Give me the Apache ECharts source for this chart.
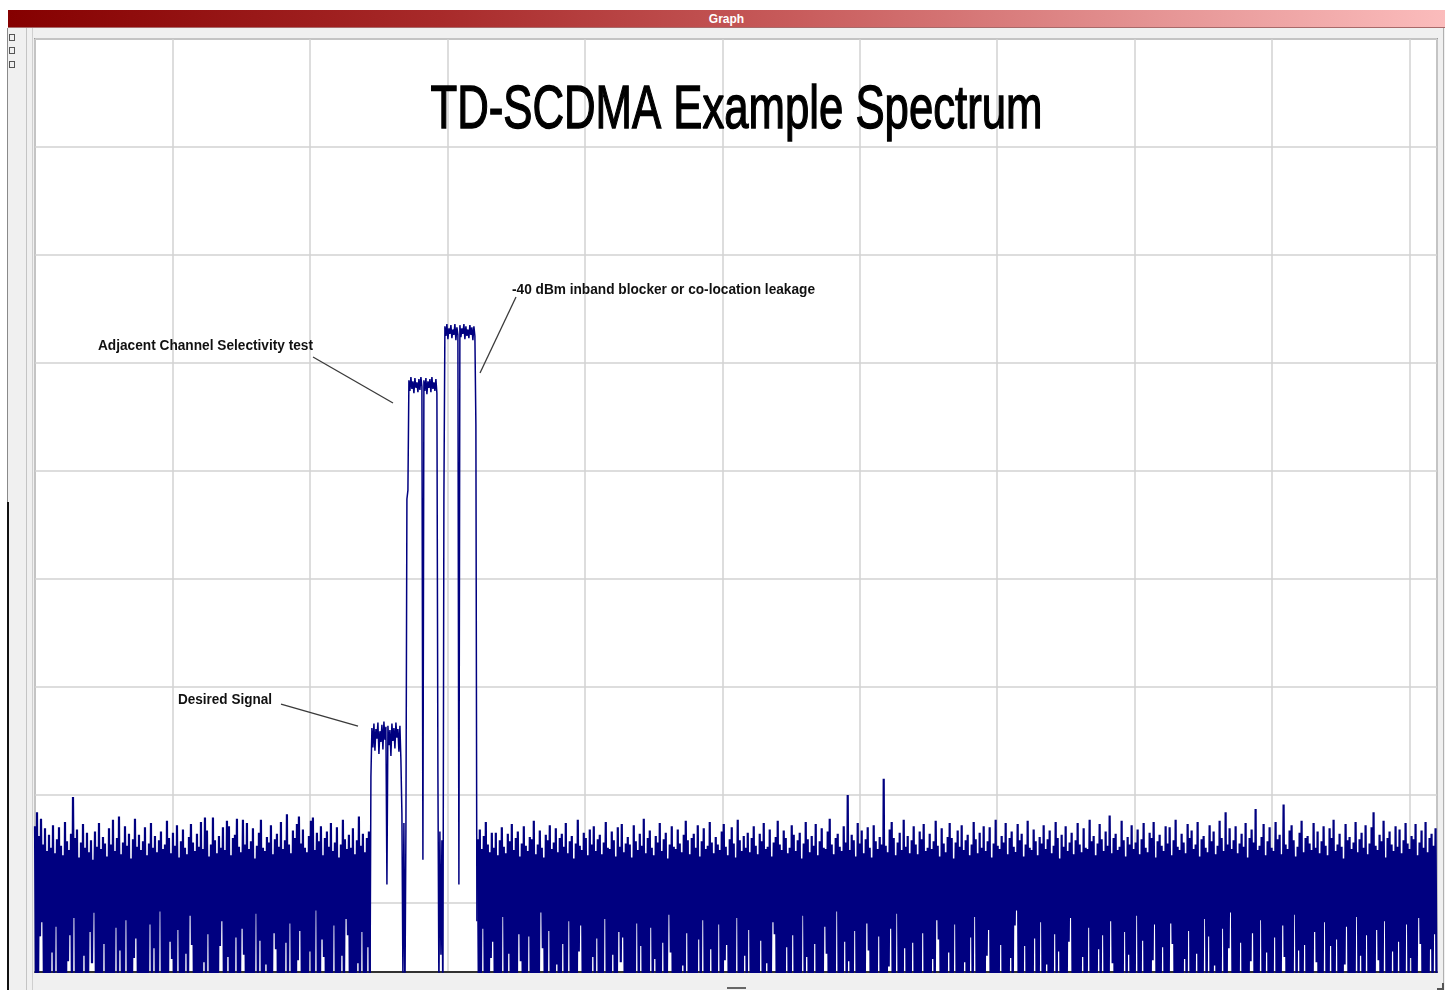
<!DOCTYPE html>
<html>
<head>
<meta charset="utf-8">
<script src="https://cdn.jsdelivr.net/npm/echarts@6/dist/echarts.min.js"></script>
<style>
html,body{margin:0;padding:0;width:1450px;height:990px;overflow:hidden;background:#fff;}
.abs{position:absolute;}
#frame{left:8px;top:28px;width:1437px;height:962px;background:#f0f0f0;}
#titlebar{left:8px;top:10px;width:1437px;height:18px;background:linear-gradient(to right,#850000 0%,#a82a2a 30%,#c85c5c 55%,#e59494 80%,#fbbcbc 100%);color:#fff;font:bold 12px "Liberation Sans Narrow","Liberation Sans",Arial,sans-serif;text-align:center;line-height:18px;box-shadow:inset 0 -1px 0 #a86a6a;}
#chart{left:0;top:0;width:1450px;height:990px;}
</style>
</head>
<body>
<div id="frame" class="abs"></div>
<div id="titlebar" class="abs">Graph</div>
<div class="abs" style="left:7px;top:28px;width:1px;height:474px;background:#8a8a8a;"></div>
<div class="abs" style="left:7px;top:502px;width:2px;height:488px;background:#111;"></div>
<div class="abs" style="left:26px;top:28px;width:1px;height:962px;background:#c4c4c4;"></div>
<div class="abs" style="left:32px;top:28px;width:1px;height:962px;background:#cfcfcf;"></div>
<div class="abs" style="left:1443px;top:28px;width:1px;height:962px;background:#b0b0b0;"></div>
<div class="abs" style="left:9px;top:34px;width:4px;height:5px;border:1px solid #555;"></div>
<div class="abs" style="left:9px;top:47px;width:4px;height:5px;border:1px solid #555;"></div>
<div class="abs" style="left:9px;top:61px;width:4px;height:5px;border:1px solid #555;"></div>
<div class="abs" style="left:727px;top:987px;width:19px;height:2px;background:#666;"></div>
<div class="abs" style="left:1437px;top:983px;width:5px;height:5px;border-right:2px solid #555;border-bottom:2px solid #555;"></div>
<div id="chart" class="abs"></div>
<script>
// ---------------- data ----------------
const chartTitle = 'TD-SCDMA Example Spectrum';
const freqMinMHz = 2004, freqMaxMHz = 2065.2, freqGridMHz = 6;
const levelTopDbm = -10, levelBottomDbm = -96.4, levelGridDb = 10;
const binMHz = 0.04364;

// noise floor left of the signals: sweep peaks / troughs (dBm; troughs of -99 are below the screen)
const leftNoiseStartMHz = 2004.0;
const leftNoisePeaks = [
-82.9,-81.6,-83.8,-82.2,-84.6,-83.1,-85.2,-83.7,-84.9,-82.8,-85.4,-84.1,-83.0,-84.7,-85.6,-82.5,-84.3,-85.1,-83.6,-80.2,-84.0,
-83.2,-85.8,-84.4,-82.7,-84.9,-83.5,-85.3,-84.2,-86.0,-83.4,-84.8,-82.6,-85.0,-83.9,-84.5,-85.7,-83.1,-84.6,-82.3,-85.2,-84.0,
-82.0,-85.5,-84.4,-82.9,-84.7,-83.6,-85.9,-84.1,-82.2,-84.8,-83.7,-85.1,-84.3,-83.0,-85.6,-84.5,-82.6,-84.9,-83.8,-85.3,-84.2,
-83.4,-85.0,-84.6,-82.4,-84.0,-85.4,-83.5,-84.7,-82.8,-85.8,-84.3,-83.2,-84.9,-85.5,-83.9,-82.7,-84.4,-85.2,-83.6,-84.8,-82.5,
-85.0,-82.1,-83.3,-85.7,-84.6,-82.1,-84.2,-85.4,-83.8,-84.9,-83.0,-85.1,-82.4,-82.9,-85.6,-84.0,-83.7,-82.2,-84.8,-85.3,-82.3,
-84.6,-82.6,-85.0,-84.3,-83.1,-85.9,-84.7,-83.5,-82.3,-84.9,-85.2,-83.9,-84.4,-82.8,-85.5,-84.1,-83.6,-84.8,-82.5,-85.0,-84.2,
-81.8,-84.6,-85.4,-83.3,-84.0,-82.7,-82.0,-84.5,-83.2,-84.9,-85.3,-83.8,-82.4,-82.1,-85.1,-83.5,-84.3,-82.9,-85.6,-84.0,-83.4,
-84.8,-82.6,-85.2,-84.4,-83.0,-85.8,-84.6,-82.3,-84.1,-85.0,-83.7,-84.9,-83.1,-85.5,-84.2,-82.0,-84.7,-83.6,-85.3,-84.0,-83.4
];
const leftNoiseTroughs = [
-99,-99,-93.1,-91.8,-99,-99,-99,-99,-94.6,-99,-92.2,-99,-99,-99,-99,-99,-95.4,-93.0,-99,-91.4,-99,
-99,-99,-99,-94.9,-99,-99,-92.7,-95.6,-90.9,-99,-99,-99,-99,-93.8,-99,-99,-99,-99,-99,-92.3,-99,
-94.4,-99,-99,-91.6,-99,-99,-99,-95.1,-93.3,-99,-99,-99,-99,-99,-99,-92.0,-99,-94.2,-99,-99,-90.8,
-99,-99,-99,-99,-93.6,-95.2,-99,-99,-92.5,-99,-99,-99,-94.7,-99,-91.2,-93.9,-99,-99,-99,-99,-99,
-95.5,-99,-92.9,-99,-99,-99,-99,-99,-94.0,-91.7,-99,-99,-95.0,-99,-99,-99,-93.2,-99,-99,-92.4,-94.8,
-99,-99,-99,-99,-99,-91.0,-99,-93.5,-99,-99,-95.7,-99,-99,-99,-92.8,-94.3,-99,-99,-99,-99,-93.7,
-99,-91.9,-99,-99,-99,-95.3,-92.6,-99,-99,-99,-99,-94.5,-99,-99,-90.7,-99,-99,-93.4,-95.0,-99,-99,
-99,-99,-92.1,-99,-99,-99,-94.9,-99,-91.5,-93.0,-99,-99,-99,-99,-95.6,-99,-92.7,-99,-99,-94.1,-99
];

// desired signal, adjacent channel and in-band blocker (one value per sweep bin, dBm)
const signalStartMHz = 2018.62;
const signalLevels = [
-100,-78.3,
-73.8,-75.6,-73.4,-75.9,-73.9,-74.8,-73.3,-76.2,-74.1,-75.1,-73.5,-75.8,-73.2,-74.9,-73.7,
-88.3,-73.6,-75.4,-74.0,-76.4,-73.4,-75.0,-73.8,-75.7,-73.3,-74.7,-73.9,-76.0,-73.6,-76.8,
-81.8,-97,-82.6,-99,-83.4,
-52.6,-51.8,
-41.6,-42.6,-41.3,-42.4,-41.7,-42.8,-41.4,-42.3,-41.8,-42.7,-41.5,-42.5,-41.3,-42.2,
-86.0,-41.6,-42.6,-41.4,-42.9,-41.7,-42.3,-41.5,-42.7,-41.3,-42.4,-41.8,-42.6,-41.5,-42.8,
-77.9,-98,-83.4,-94.8,-84.2,-100,
-52.4,
-36.6,-37.5,-36.4,-37.8,-36.8,-37.3,-36.5,-37.7,-36.9,-37.4,-36.4,-37.9,-36.7,-37.4,
-88.3,-36.5,-37.6,-36.8,-37.3,-36.4,-37.8,-36.6,-37.5,-36.9,-37.7,-36.5,-37.4,-36.7,-37.9,-36.6,-37.5,
-45.8,-91.7
];

// noise floor right of the signals: sweep peaks / troughs (dBm)
const rightNoiseStartMHz = 2023.33;
const rightNoisePeaks = [
-84.1,-83.2,-85.0,-83.8,-82.5,-84.6,-85.3,-83.5,-84.9,-83.5,-85.6,-84.2,-83.0,-84.8,-85.4,-83.6,-84.3,-82.7,-85.1,-84.0,
-83.4,-85.7,-84.5,-82.9,-84.7,-85.2,-83.9,-84.1,-82.4,-85.5,-84.6,-83.3,-84.9,-85.8,-83.7,-84.2,-82.8,-85.0,-84.4,-83.1,
-85.3,-84.0,-83.6,-84.8,-82.6,-85.4,-84.3,-83.8,-85.9,-84.5,-82.3,-84.7,-85.1,-83.5,-84.0,-85.6,-83.2,-84.6,-82.9,-85.2,
-84.1,-83.7,-85.5,-84.4,-82.5,-84.9,-85.0,-83.4,-84.2,-85.7,-83.0,-84.8,-82.7,-85.3,-84.5,-83.9,-84.6,-85.8,-82.8,-84.3,
-85.1,-83.6,-84.7,-82.2,-85.4,-84.0,-83.3,-84.9,-85.6,-83.8,-84.4,-82.6,-85.2,-84.1,-83.5,-85.9,-84.6,-82.9,-84.8,-85.0,
-83.2,-84.5,-85.3,-83.7,-82.4,-84.2,-85.5,-84.0,-83.6,-84.9,-82.8,-85.7,-84.3,-83.1,-85.0,-84.7,-82.5,-84.4,-85.4,-83.9,
-84.6,-85.1,-83.4,-82.7,-84.8,-85.6,-84.1,-83.0,-84.5,-85.8,-82.3,-84.2,-85.2,-83.8,-84.9,-83.5,-85.3,-84.0,-82.9,-84.7,
-85.5,-83.6,-84.3,-82.6,-85.0,-84.8,-83.2,-85.7,-84.4,-83.9,-82.4,-84.6,-85.1,-83.3,-84.0,-85.4,-84.9,-82.8,-83.7,-85.2,
-84.2,-83.5,-85.9,-84.5,-82.5,-84.1,-85.3,-83.8,-84.7,-82.7,-85.6,-84.3,-83.1,-84.9,-85.0,-83.4,-82.2,-84.6,-85.5,-84.0,
-83.6,-84.8,-85.2,-82.9,-84.4,-80.0,-85.1,-83.7,-84.2,-85.7,-82.6,-84.5,-83.3,-85.4,-84.1,-83.0,-84.9,-85.8,-82.8,-84.3,
-85.0,-83.9,-84.6,-78.5,-84.7,-85.3,-83.2,-82.5,-84.0,-85.6,-84.4,-83.5,-85.1,-82.3,-84.8,-83.8,-85.4,-84.2,-82.9,-84.6,
-85.5,-83.4,-84.1,-82.7,-85.2,-84.9,-83.6,-85.0,-84.3,-82.4,-84.7,-85.7,-83.1,-84.5,-85.3,-83.9,-82.6,-84.0,-85.9,-84.4,
-83.3,-84.8,-82.8,-85.1,-84.2,-83.7,-85.6,-84.6,-82.5,-84.1,-85.4,-83.5,-84.9,-82.9,-85.2,-84.3,-83.0,-85.8,-84.5,-82.3,
-84.7,-85.0,-83.8,-84.4,-82.6,-85.5,-84.0,-83.4,-84.8,-85.3,-82.7,-84.2,-83.6,-85.7,-84.6,-82.4,-84.9,-85.1,-83.2,-84.3,
-85.6,-83.9,-84.5,-82.8,-85.0,-84.1,-83.3,-85.4,-84.7,-82.5,-84.0,-85.9,-83.7,-84.8,-82.9,-85.2,-84.4,-83.5,-85.5,-84.2,
-82.6,-84.6,-85.3,-83.1,-84.9,-85.0,-82.3,-84.3,-83.8,-85.6,-84.5,-82.7,-84.1,-85.2,-83.4,-84.7,-81.9,-85.4,-84.0,-83.6,
-85.1,-84.8,-82.4,-84.2,-85.7,-83.9,-84.6,-82.8,-85.0,-84.4,-83.2,-85.5,-84.1,-82.6,-84.9,-85.3,-83.5,-84.0,-82.5,-85.8,
-84.3,-83.7,-84.7,-85.2,-82.9,-84.5,-83.0,-85.6,-84.2,-82.3,-84.8,-85.1,-83.6,-84.4,-85.4,-82.7,-84.0,-83.3,-85.0,-84.6,
-82.5,-85.7,-84.1,-83.8,-84.9,-85.3,-82.8,-84.3,-83.4,-85.5,-84.7,-82.4,-84.0,-85.2,-81.6,-84.6,-83.1,-85.0,-84.2,-82.9,
-85.4,-84.5,-83.6,-84.8,-82.6,-85.8,-84.0,-83.2,-84.4,-81.3,-85.1,-84.7,-83.9,-82.7,-85.6,-84.3,-83.0,-84.9,-85.2,-82.5,
-84.1,-83.7,-85.5,-80.9,-84.6,-85.0,-83.3,-82.8,-84.2,-85.7,-84.8,-83.5,-82.4,-85.3,-84.0,-83.8,-84.5,-85.1,-82.6,-84.9,
-83.4,-85.4,-84.3,-82.9,-84.7,-85.6,-83.1,-84.0,-82.3,-85.2,-84.6,-83.6,-84.8,-85.9,-82.7,-84.2,-83.9,-85.0,-84.4,-82.5,
-85.3,-84.1,-83.5,-84.9,-82.8,-85.5,-84.5,-83.0,-81.6,-84.7,-85.1,-83.7,-84.3,-82.4,-85.8,-84.0,-83.4,-84.6,-85.2,-82.9,
-84.8,-83.2,-85.4,-84.2,-82.6,-84.5,-85.0,-83.8,-84.1,-82.7,-85.6,-84.4,-83.3,-84.9,-82.5,-85.3,-84.0,-83.6,-84.7,-83.1
];
const rightNoiseTroughs = [
-99,-99,-92.4,-99,-99,-99,-95.1,-93.6,-99,-99,-99,-99,-91.3,-99,-99,-94.7,-99,-99,-99,-99,
-92.9,-95.4,-99,-99,-99,-93.1,-99,-99,-99,-99,-99,-90.9,-94.2,-99,-99,-92.6,-99,-99,-99,-95.7,
-99,-99,-93.8,-99,-99,-91.7,-99,-99,-99,-99,-94.5,-92.1,-99,-99,-99,-99,-99,-95.0,-99,-93.3,
-99,-99,-99,-91.5,-99,-99,-99,-94.8,-99,-99,-92.7,-95.5,-93.2,-99,-99,-99,-99,-99,-99,-91.9,
-99,-94.0,-99,-99,-99,-99,-92.3,-99,-95.2,-99,-99,-99,-93.7,-99,-99,-91.1,-94.6,-99,-99,-99,
-99,-99,-95.8,-99,-92.8,-99,-99,-99,-99,-99,-93.4,-99,-91.6,-99,-99,-99,-94.3,-99,-99,-99,
-92.0,-99,-99,-95.3,-93.9,-99,-99,-99,-99,-91.4,-99,-99,-99,-94.9,-99,-92.5,-99,-99,-99,-99,
-99,-93.5,-99,-99,-95.6,-99,-99,-91.8,-92.9,-99,-99,-99,-99,-99,-94.1,-99,-99,-93.0,-99,-99,
-99,-99,-91.2,-99,-95.0,-99,-99,-99,-93.8,-99,-99,-99,-99,-92.2,-94.7,-99,-99,-99,-99,-90.8,
-99,-99,-99,-93.6,-99,-95.4,-99,-99,-92.6,-99,-99,-99,-99,-99,-91.9,-94.4,-99,-99,-99,-99,
-93.1,-99,-99,-99,-99,-95.9,-92.4,-99,-99,-91.0,-99,-99,-99,-94.2,-99,-99,-99,-93.7,-99,-99,
-99,-99,-92.8,-99,-99,-99,-99,-95.2,-99,-91.6,-93.4,-99,-99,-99,-99,-94.6,-99,-99,-92.0,-99,
-99,-99,-99,-95.5,-99,-99,-93.2,-99,-91.3,-99,-99,-99,-99,-99,-94.9,-92.5,-99,-99,-99,-99,
-99,-93.9,-99,-99,-99,-99,-95.1,-99,-92.1,-90.7,-99,-99,-99,-94.0,-99,-99,-99,-99,-93.3,-99,
-99,-91.8,-99,-99,-95.7,-99,-99,-99,-92.9,-99,-94.5,-99,-99,-99,-99,-93.6,-91.4,-99,-99,-99,
-99,-99,-95.0,-99,-99,-92.3,-99,-99,-99,-99,-94.3,-99,-93.0,-99,-99,-99,-91.7,-95.6,-99,-99,
-99,-99,-99,-92.7,-99,-94.8,-99,-99,-99,-91.2,-99,-99,-93.5,-99,-99,-99,-99,-95.3,-92.0,-99,
-99,-99,-94.1,-99,-99,-99,-91.9,-93.8,-99,-99,-99,-99,-99,-95.2,-99,-92.6,-99,-99,-99,-94.7,
-99,-99,-99,-91.5,-99,-93.1,-99,-99,-95.8,-99,-99,-99,-92.4,-99,-99,-94.2,-90.9,-99,-99,-99,
-99,-93.7,-99,-99,-99,-99,-95.4,-92.8,-99,-99,-99,-91.6,-99,-99,-94.6,-99,-99,-99,-93.2,-99,
-99,-99,-92.1,-95.0,-99,-99,-99,-99,-91.1,-99,-94.4,-99,-99,-93.9,-99,-99,-99,-99,-92.7,-95.5,
-99,-99,-99,-91.8,-99,-99,-94.0,-99,-99,-93.4,-99,-99,-99,-95.7,-92.2,-99,-99,-99,-99,-91.3,
-99,-94.9,-99,-99,-93.0,-99,-99,-99,-99,-92.5,-95.3,-99,-99,-91.7,-99,-99,-99,-94.5,-99,-99,
-93.6,-99,-99,-99,-92.0,-99,-95.1,-99,-99,-99,-91.4,-93.8,-99,-99,-99,-99,-94.3,-99,-92.9,-99
];

const annotationTexts = [
  '-40 dBm inband blocker or co-location leakage',
  'Adjacent Channel Selectivity test',
  'Desired Signal'
];

// ---------------- build traces ----------------
const noiseTrace = [];
function addNoise(startMHz, peaks, troughs) {
  const n = Math.min(peaks.length, troughs.length);
  for (let i = 0; i < n; i++) {
    noiseTrace.push([startMHz + (2 * i) * binMHz, peaks[i]]);
    noiseTrace.push([startMHz + (2 * i + 1) * binMHz, troughs[i]]);
  }
}
addNoise(leftNoiseStartMHz, leftNoisePeaks, leftNoiseTroughs);
noiseTrace.push([null, null]);
addNoise(rightNoiseStartMHz, rightNoisePeaks, rightNoiseTroughs);
const signalTrace = signalLevels.map((v, i) => [signalStartMHz + i * binMHz, v]);

// ---------------- layout / styles ----------------
const FONT_FAMILY = '"Liberation Sans Narrow", "Liberation Sans", Arial, sans-serif';
const titleFont = '62px ' + FONT_FAMILY;
const annFont = 'bold 14px "Liberation Sans", Arial, sans-serif';
const layout = {
  title: { cx: 736.5, cy: 111, width: 612 },
  ann: [
    { left: 512, cy: 290, width: 303, line: [516, 297, 480, 373] },
    { left: 98, cy: 346, width: 215, line: [313, 357, 393, 403] },
    { left: 178, cy: 700, width: 94, line: [281, 704, 358, 726] }
  ]
};
const mctx = document.createElement('canvas').getContext('2d');
function fitScale(text, font, w) {
  mctx.font = font;
  const m = mctx.measureText(text).width;
  return m > 0 ? w / m : 1;
}

const graphics = [];
graphics.push({
  type: 'text', x: layout.title.cx, y: layout.title.cy, z: 100,
  scaleX: fitScale(chartTitle, titleFont, layout.title.width), scaleY: 1,
  style: { text: chartTitle, font: titleFont, fill: '#000', stroke: '#000', lineWidth: 1.4, align: 'center', verticalAlign: 'middle' }
});
annotationTexts.forEach((t, i) => {
  const a = layout.ann[i];
  graphics.push({
    type: 'text', x: a.left, y: a.cy, z: 100,
    scaleX: fitScale(t, annFont, a.width), scaleY: 1,
    style: { text: t, font: annFont, fill: '#111', align: 'left', verticalAlign: 'middle' }
  });
  graphics.push({
    type: 'line', z: 100,
    shape: { x1: a.line[0], y1: a.line[1], x2: a.line[2], y2: a.line[3] },
    style: { stroke: '#3a3a3a', lineWidth: 1.3 }
  });
});

const chart = echarts.init(document.getElementById('chart'), null, { renderer: 'canvas' });
chart.setOption({
  animation: false,
  backgroundColor: 'transparent',
  grid: { left: 35, top: 39, width: 1402, height: 933, show: true, backgroundColor: '#ffffff', borderColor: '#9c9c9c', borderWidth: 2 },
  xAxis: {
    type: 'value', min: freqMinMHz, max: freqMaxMHz, interval: freqGridMHz,
    axisLabel: { show: false }, axisTick: { show: false },
    axisLine: { show: true, onZero: false, lineStyle: { color: '#000', width: 1.5 } },
    splitLine: { show: true, lineStyle: { color: '#d2d2d2', width: 1.5 } }
  },
  yAxis: [
    { type: 'value', min: levelBottomDbm, max: levelTopDbm, show: true,
      axisLabel: { show: false }, axisTick: { show: false }, axisLine: { show: false }, splitLine: { show: false } },
    { type: 'value', inverse: true, min: 0, max: levelTopDbm - levelBottomDbm, interval: levelGridDb, show: true,
      axisLabel: { show: false }, axisTick: { show: false }, axisLine: { show: false },
      splitLine: { show: true, lineStyle: { color: '#d2d2d2', width: 1.5 } } }
  ],
  series: [
    { name: 'noise floor', type: 'line', yAxisIndex: 0, data: noiseTrace, showSymbol: false, symbol: 'none',
      sampling: null, clip: true, silent: true, connectNulls: false,
      lineStyle: { color: '#000080', width: 2.2 } },
    { name: 'signals', type: 'line', yAxisIndex: 0, data: signalTrace, showSymbol: false, symbol: 'none',
      sampling: null, clip: true, silent: true,
      lineStyle: { color: '#000080', width: 1.5 } }
  ],
  graphic: graphics
});
</script>
</body>
</html>
